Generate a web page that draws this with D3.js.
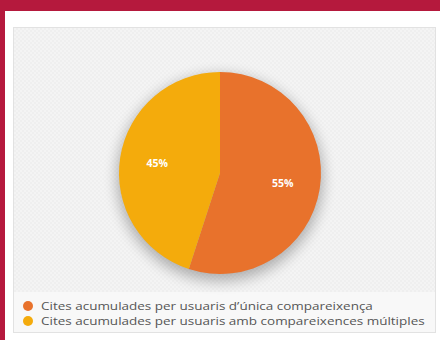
<!DOCTYPE html>
<html><head><meta charset="utf-8">
<script src="https://cdn.jsdelivr.net/npm/d3@7"></script>
<style>html,body{margin:0;padding:0;background:#fff;}svg{display:block;}</style>
</head><body>
<script>
const categories = ["Cites acumulades per usuaris d\u2019única compareixença", "Cites acumulades per usuaris amb compareixences múltiples"];
const values = [55, 45];
const labels = ["55%", "45%"];
const colors = ["#E8722C", "#F4AB0C"];

const W = 440, H = 340;
const svg = d3.select("body").append("svg").attr("width", W).attr("height", H);
const defs = svg.append("defs");
const pat = defs.append("pattern").attr("id", "chk").attr("width", 4).attr("height", 4).attr("patternUnits", "userSpaceOnUse");
pat.append("rect").attr("width", 4).attr("height", 4).attr("fill", "#f4f4f4");
pat.append("rect").attr("width", 2).attr("height", 2).attr("fill", "#efefef");
pat.append("rect").attr("x", 2).attr("y", 2).attr("width", 2).attr("height", 2).attr("fill", "#efefef");
const f = defs.append("filter").attr("id", "sh").attr("x", "-30%").attr("y", "-30%").attr("width", "160%").attr("height", "160%");
f.append("feGaussianBlur").attr("stdDeviation", 7);

// frame
svg.append("rect").attr("width", W).attr("height", H).attr("fill", "#fff");
svg.append("rect").attr("x", 0).attr("y", 0).attr("width", W).attr("height", 11).attr("fill", "#B5193D");
svg.append("rect").attr("x", 0).attr("y", 0).attr("width", 5).attr("height", H).attr("fill", "#B5193D");
// chart area
svg.append("rect").attr("x", 13.5).attr("y", 27.5).attr("width", 422).attr("height", 305).attr("fill", "url(#chk)").attr("stroke", "#e2e2e2");
svg.append("rect").attr("x", 14).attr("y", 292).attr("width", 421).attr("height", 40).attr("fill", "#f8f8f8");

const cx = 220, cy = 173, r = 101;
const pie = d3.pie().sort(null).value(d => d)(values);
const arc = d3.arc().innerRadius(0).outerRadius(r);
const labArc = d3.arc().innerRadius(r * 0.63).outerRadius(r * 0.63);
const g = svg.append("g").attr("transform", `translate(${cx},${cy})`);
g.append("circle").attr("cx", 0).attr("cy", 5).attr("r", r + 2).attr("fill", "#000").attr("opacity", 0.28).attr("filter", "url(#sh)");
g.selectAll("path.s").data(pie).enter().append("path").attr("class", "s")
  .attr("d", arc).attr("fill", (d, i) => colors[i]);
g.selectAll("text.l").data(pie).enter().append("text").attr("class", "l")
  .attr("transform", d => `translate(${labArc.centroid(d)})`)
  .attr("text-anchor", "middle").attr("dy", "0.35em")
  .attr("font-family", "Open Sans, sans-serif").attr("font-weight", "bold").attr("font-size", 10.5)
  .attr("fill", "#fff").text((d, i) => labels[i]);

// legend
const lg = svg.append("g");
categories.forEach((c, i) => {
  const y = 306 + i * 15;
  lg.append("circle").attr("cx", 28).attr("cy", y).attr("r", 5).attr("fill", colors[i]);
  lg.append("text").attr("transform", `translate(41,${y}) scale(1.35,1)`).attr("dy", "0.35em")
    .attr("font-family", "Open Sans, sans-serif").attr("font-size", 10).attr("fill", "#555").text(c);
});
</script>
</body></html>
